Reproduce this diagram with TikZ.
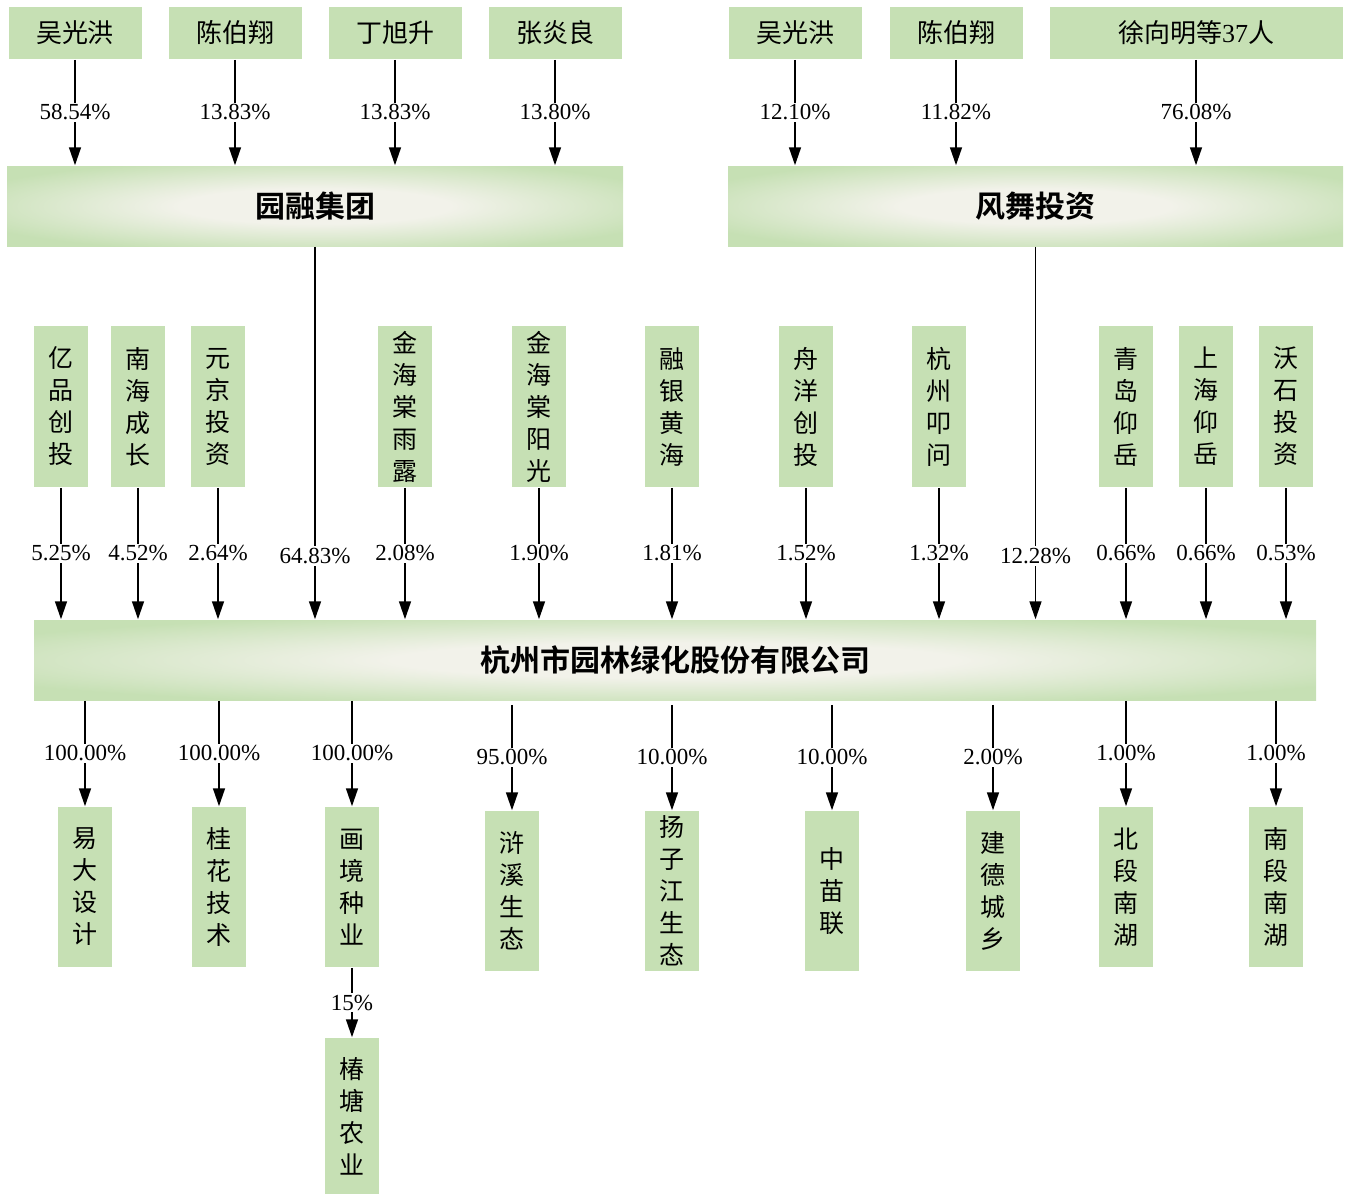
\documentclass[tikz,border=0pt]{standalone}
\usepackage{fontspec}
\setmainfont{Liberation Serif}
\newfontfamily\cjk{Noto Sans CJK SC}[BoldFont={Noto Sans CJK SC Bold}]
\usepackage{tikz}
\usetikzlibrary{arrows.meta,positioning,calc}
\definecolor{mygreen}{RGB}{198,224,180}
\definecolor{mylight}{RGB}{242,242,234}
\pgfdeclareradialshading{glow}{\pgfpointorigin}{color(0bp)=(mylight); color(11bp)=(mylight); color(30bp)=(mygreen); color(50bp)=(mygreen)}
\tikzstyle{holder}=[fill=mygreen,minimum width=66.5pt,minimum height=26pt,inner sep=0pt,font=\cjk\fontsize{13}{15}\selectfont]

\begin{document}
\begin{tikzpicture}[
  x=0.5pt,y=-0.5pt,
  line width=0.75pt,
  >={Triangle[length=9pt,width=6pt]},
  bigbox/.style={
    shade,
    shading=glow,
    minimum height=40pt,
    inner sep=0pt,
    font=\cjk\bfseries\fontsize{15}{18}\selectfont
    },
  vbox/.style={
    fill=mygreen,
    minimum width=27pt,
    minimum height=#1,
    inner sep=0pt,
    align=center,
    font=\cjk\fontsize{12.5}{16}\selectfont
    },
  pct/.style={fill=white,inner sep=1pt,font=\fontsize{11.5}{13}\selectfont}
]
\useasboundingbox (0,0) rectangle (1346,1195);

% shareholders
\node [holder] (p1) at (75,33) {吴光洪};
\node [holder] (p2) at (235,33) {陈伯翔};
\node [holder] (p3) at (395,33) {丁旭升};
\node [holder] (p4) at (555,33) {张炎良};
\node [holder] (p5) at (795,33) {吴光洪};
\node [holder] (p6) at (956,33) {陈伯翔};
\node [holder, minimum width=146.5pt] (p7) at (1196,33) {徐向明等{\rmfamily 37}人};

\node [bigbox, minimum width=308pt] (yr) at (315,206) {园融集团};
\node [bigbox, minimum width=307.5pt] (fw) at (1035.5,206) {风舞投资};

\foreach \n/\v in {p1/58.54,p2/13.83,p3/13.83,p4/13.80}
  \draw [->] (\n.south) -- (\n.south |- yr.north) node [pct,midway] {\v\%};
\foreach \n/\v in {p5/12.10,p6/11.82,p7/76.08}
  \draw [->] (\n.south) -- (\n.south |- fw.north) node [pct,midway] {\v\%};

% middle holders
\node [vbox=80.5pt] (m1) at (61,406.5) {亿\\品\\创\\投};
\node [vbox=80.5pt] (m2) at (138,406.5) {南\\海\\成\\长};
\node [vbox=80.5pt] (m3) at (218,406.5) {元\\京\\投\\资};
\node [vbox=80.5pt] (m4) at (405,406.5) {金\\海\\棠\\雨\\露};
\node [vbox=80.5pt] (m5) at (539,406.5) {金\\海\\棠\\阳\\光};
\node [vbox=80.5pt] (m6) at (672,406.5) {融\\银\\黄\\海};
\node [vbox=80.5pt] (m7) at (806,406.5) {舟\\洋\\创\\投};
\node [vbox=80.5pt] (m8) at (939,406.5) {杭\\州\\叩\\问};
\node [vbox=80.5pt] (m9) at (1126,406.5) {青\\岛\\仰\\岳};
\node [vbox=80.5pt] (m10) at (1206,406.5) {上\\海\\仰\\岳};
\node [vbox=80.5pt] (m11) at (1286,406.5) {沃\\石\\投\\资};

\node [bigbox, minimum width=641pt] (main) at (675,660) {杭州市园林绿化股份有限公司};

\foreach \n/\v in {m1/5.25,m2/4.52,m3/2.64,m4/2.08,m5/1.90,m6/1.81,m7/1.52,m8/1.32,m9/0.66,m10/0.66,m11/0.53}
  \draw [->] (\n.south) -- (\n.south |- main.north) node [pct,midway] {\v\%};
\draw [->] (yr.south) -- (yr.south |- main.north) node [pct,pos=0.83] {64.83\%};
\draw [->] (fw.south) -- (fw.south |- main.north) node [pct,pos=0.83] {12.28\%};

% subsidiaries
\node [vbox=80pt] (b1) at (85,887) {易\\大\\设\\计};
\node [vbox=80pt] (b2) at (219,887) {桂\\花\\技\\术};
\node [vbox=80pt] (b3) at (352,887) {画\\境\\种\\业};
\node [vbox=80pt] (b4) at (512,891) {浒\\溪\\生\\态};
\node [vbox=80pt] (b5) at (672,891) {扬\\子\\江\\生\\态};
\node [vbox=80pt] (b6) at (832,891) {中\\苗\\联};
\node [vbox=80pt] (b7) at (993,891) {建\\德\\城\\乡};
\node [vbox=80pt] (b8) at (1126,887) {北\\段\\南\\湖};
\node [vbox=80pt] (b9) at (1276,887) {南\\段\\南\\湖};
\node [vbox=78pt] (b10) at (352,1116) {椿\\塘\\农\\业};

\foreach \n/\v in {b1/100.00,b2/100.00,b3/100.00,b8/1.00,b9/1.00}
  \draw [->] (main.south -| \n.north) -- (\n.north) node [pct,midway] {\v\%};
\foreach \n/\v in {b4/95.00,b5/10.00,b6/10.00,b7/2.00}
  \draw [->] ($(main.south -| \n.north)+(0,4)$) -- (\n.north) node [pct,midway] {\v\%};
\draw [->] (b3.south) -- (b10.north) node [pct,midway] {15\%};

\end{tikzpicture}
\end{document}
